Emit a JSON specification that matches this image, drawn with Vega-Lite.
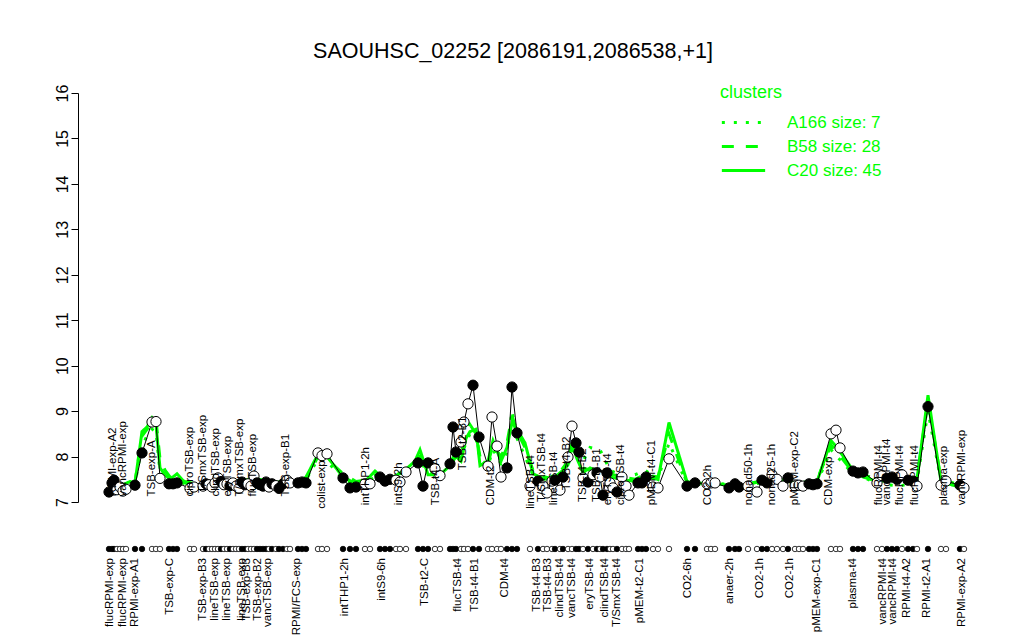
{
  "$schema": "https://vega.github.io/schema/vega-lite/v6.json",
  "width": 900,
  "height": 409,
  "autosize": {"type": "none"},
  "padding": {"left": 78, "top": 93, "right": 46, "bottom": 138},
  "background": "white",
  "title": {"text": "SAOUHSC_02252 [2086191,2086538,+1]", "fontSize": 21.5, "font": "Liberation Sans", "fontWeight": "normal", "anchor": "middle", "frame": "group", "offset": 22, "dx": -15, "color": "black"},
  "config": {"view": {"stroke": null}, "font": "Liberation Sans"},
  "datasets": {
    "pts": [
      {"pos": 6.2, "v": 7.22, "f": "F"}, {"pos": 6.8, "v": 7.42, "f": "F"}, {"pos": 7.2, "v": 7.48, "f": "F"}, {"pos": 7.8, "v": 7.27, "f": "O"},
      {"pos": 8.4, "v": 7.33, "f": "O"}, {"pos": 9.0, "v": 7.24, "f": "O"}, {"pos": 9.6, "v": 7.28, "f": "O"}, {"pos": 11.4, "v": 7.37, "f": "F"},
      {"pos": 12.8, "v": 8.08, "f": "F"}, {"pos": 14.8, "v": 8.76, "f": "O"}, {"pos": 15.6, "v": 8.77, "f": "O"}, {"pos": 16.4, "v": 7.52, "f": "O"},
      {"pos": 18.2, "v": 7.40, "f": "F"}, {"pos": 19.0, "v": 7.40, "f": "F"}, {"pos": 19.8, "v": 7.42, "f": "F"}, {"pos": 22.4, "v": 7.30, "f": "O"},
      {"pos": 23.2, "v": 7.33, "f": "O"}, {"pos": 25.0, "v": 7.35, "f": "O"}, {"pos": 25.6, "v": 7.40, "f": "F"}, {"pos": 26.2, "v": 7.38, "f": "O"},
      {"pos": 26.8, "v": 7.33, "f": "O"}, {"pos": 27.4, "v": 7.42, "f": "O"}, {"pos": 28.0, "v": 7.53, "f": "O"}, {"pos": 28.6, "v": 7.45, "f": "F"},
      {"pos": 29.2, "v": 7.38, "f": "O"}, {"pos": 29.8, "v": 7.40, "f": "O"}, {"pos": 30.4, "v": 7.36, "f": "F"}, {"pos": 31.0, "v": 7.42, "f": "O"},
      {"pos": 31.6, "v": 7.35, "f": "O"}, {"pos": 32.2, "v": 7.30, "f": "O"}, {"pos": 32.8, "v": 7.44, "f": "F"}, {"pos": 33.4, "v": 7.38, "f": "F"},
      {"pos": 34.0, "v": 7.40, "f": "O"}, {"pos": 34.6, "v": 7.35, "f": "O"}, {"pos": 35.2, "v": 7.57, "f": "O"}, {"pos": 35.8, "v": 7.42, "f": "F"},
      {"pos": 36.4, "v": 7.38, "f": "F"}, {"pos": 37.0, "v": 7.35, "f": "F"}, {"pos": 37.6, "v": 7.44, "f": "F"}, {"pos": 38.2, "v": 7.33, "f": "O"},
      {"pos": 38.8, "v": 7.40, "f": "F"}, {"pos": 39.6, "v": 7.36, "f": "O"}, {"pos": 40.2, "v": 7.30, "f": "F"}, {"pos": 41.0, "v": 7.40, "f": "F"},
      {"pos": 41.8, "v": 7.48, "f": "O"}, {"pos": 42.4, "v": 7.42, "f": "O"}, {"pos": 44.0, "v": 7.42, "f": "F"}, {"pos": 44.8, "v": 7.44, "f": "F"},
      {"pos": 45.6, "v": 7.42, "f": "F"}, {"pos": 48.0, "v": 8.08, "f": "O"}, {"pos": 48.8, "v": 8.02, "f": "O"}, {"pos": 49.8, "v": 8.06, "f": "O"},
      {"pos": 53.0, "v": 7.53, "f": "F"}, {"pos": 54.4, "v": 7.31, "f": "F"}, {"pos": 55.6, "v": 7.33, "f": "F"}, {"pos": 57.4, "v": 7.40, "f": "O"},
      {"pos": 58.4, "v": 7.40, "f": "O"}, {"pos": 60.4, "v": 7.55, "f": "F"}, {"pos": 61.4, "v": 7.46, "f": "F"}, {"pos": 62.4, "v": 7.50, "f": "F"},
      {"pos": 63.6, "v": 7.48, "f": "O"}, {"pos": 64.4, "v": 7.44, "f": "O"}, {"pos": 65.6, "v": 7.66, "f": "O"}, {"pos": 68.0, "v": 7.86, "f": "F"},
      {"pos": 69.0, "v": 7.35, "f": "F"}, {"pos": 70.0, "v": 7.86, "f": "F"}, {"pos": 71.4, "v": 7.73, "f": "O"}, {"pos": 72.4, "v": 7.58, "f": "O"},
      {"pos": 74.4, "v": 7.84, "f": "F"}, {"pos": 75.0, "v": 8.65, "f": "F"}, {"pos": 75.6, "v": 8.10, "f": "F"}, {"pos": 76.6, "v": 8.32, "f": "O"},
      {"pos": 77.2, "v": 8.76, "f": "O"}, {"pos": 78.0, "v": 9.16, "f": "O"}, {"pos": 79.0, "v": 9.57, "f": "F"}, {"pos": 80.2, "v": 8.43, "f": "F"},
      {"pos": 82.0, "v": 7.79, "f": "O"}, {"pos": 82.8, "v": 8.87, "f": "O"}, {"pos": 83.8, "v": 8.23, "f": "O"}, {"pos": 84.6, "v": 7.55, "f": "O"},
      {"pos": 85.8, "v": 7.75, "f": "F"}, {"pos": 86.8, "v": 9.53, "f": "F"}, {"pos": 87.8, "v": 8.52, "f": "F"}, {"pos": 90.4, "v": 7.35, "f": "O"},
      {"pos": 92.0, "v": 7.46, "f": "F"}, {"pos": 93.0, "v": 7.35, "f": "O"}, {"pos": 93.8, "v": 7.20, "f": "O"}, {"pos": 94.8, "v": 7.46, "f": "O"},
      {"pos": 95.4, "v": 7.48, "f": "F"}, {"pos": 96.4, "v": 7.26, "f": "O"}, {"pos": 97.0, "v": 7.55, "f": "F"}, {"pos": 98.0, "v": 7.99, "f": "O"},
      {"pos": 98.8, "v": 8.67, "f": "O"}, {"pos": 99.6, "v": 8.30, "f": "F"}, {"pos": 100.2, "v": 8.10, "f": "F"}, {"pos": 101.0, "v": 7.53, "f": "O"},
      {"pos": 102.0, "v": 7.44, "f": "F"}, {"pos": 103.0, "v": 7.60, "f": "O"}, {"pos": 103.8, "v": 7.64, "f": "F"}, {"pos": 104.4, "v": 7.55, "f": "O"},
      {"pos": 105.0, "v": 7.15, "f": "F"}, {"pos": 105.8, "v": 7.64, "f": "F"}, {"pos": 106.4, "v": 7.42, "f": "O"}, {"pos": 107.0, "v": 7.31, "f": "O"},
      {"pos": 107.8, "v": 7.22, "f": "F"}, {"pos": 108.8, "v": 7.55, "f": "O"}, {"pos": 109.6, "v": 7.35, "f": "O"}, {"pos": 110.2, "v": 7.15, "f": "O"},
      {"pos": 112.0, "v": 7.42, "f": "F"}, {"pos": 112.8, "v": 7.42, "f": "F"}, {"pos": 113.6, "v": 7.55, "f": "F"}, {"pos": 115.0, "v": 7.33, "f": "O"},
      {"pos": 116.0, "v": 7.31, "f": "O"}, {"pos": 118.2, "v": 7.95, "f": "O"}, {"pos": 121.8, "v": 7.35, "f": "F"}, {"pos": 123.4, "v": 7.42, "f": "F"},
      {"pos": 125.8, "v": 7.40, "f": "O"}, {"pos": 126.6, "v": 7.42, "f": "O"}, {"pos": 127.4, "v": 7.42, "f": "O"}, {"pos": 130.2, "v": 7.31, "f": "F"},
      {"pos": 131.4, "v": 7.40, "f": "F"}, {"pos": 132.2, "v": 7.33, "f": "F"}, {"pos": 134.0, "v": 7.35, "f": "O"}, {"pos": 135.8, "v": 7.22, "f": "O"},
      {"pos": 136.8, "v": 7.48, "f": "F"}, {"pos": 137.8, "v": 7.42, "f": "F"}, {"pos": 138.8, "v": 7.60, "f": "O"}, {"pos": 139.8, "v": 7.50, "f": "O"},
      {"pos": 141.0, "v": 7.35, "f": "O"}, {"pos": 142.0, "v": 7.53, "f": "F"}, {"pos": 143.4, "v": 7.35, "f": "O"}, {"pos": 144.2, "v": 7.37, "f": "O"},
      {"pos": 145.0, "v": 7.35, "f": "O"}, {"pos": 146.2, "v": 7.40, "f": "F"}, {"pos": 147.0, "v": 7.38, "f": "F"}, {"pos": 147.8, "v": 7.40, "f": "F"},
      {"pos": 150.6, "v": 8.50, "f": "O"}, {"pos": 151.6, "v": 8.58, "f": "O"}, {"pos": 152.4, "v": 8.19, "f": "O"}, {"pos": 155.0, "v": 7.68, "f": "F"},
      {"pos": 156.0, "v": 7.64, "f": "F"}, {"pos": 157.0, "v": 7.66, "f": "F"}, {"pos": 159.8, "v": 7.42, "f": "O"}, {"pos": 160.8, "v": 7.58, "f": "O"},
      {"pos": 161.8, "v": 7.52, "f": "F"}, {"pos": 162.8, "v": 7.55, "f": "F"}, {"pos": 163.8, "v": 7.50, "f": "F"}, {"pos": 164.8, "v": 7.60, "f": "O"},
      {"pos": 166.0, "v": 7.48, "f": "F"}, {"pos": 167.0, "v": 7.46, "f": "F"}, {"pos": 167.8, "v": 7.35, "f": "O"}, {"pos": 170.0, "v": 9.10, "f": "F"},
      {"pos": 172.6, "v": 7.37, "f": "O"}, {"pos": 173.6, "v": 7.46, "f": "O"}, {"pos": 176.4, "v": 7.37, "f": "F"}, {"pos": 177.2, "v": 7.31, "f": "O"}
    ],
    "clus": [
      {"pos": 6.2, "A166": 7.30, "B58": 7.35, "C20": 7.40}, {"pos": 8.4, "A166": 7.28, "B58": 7.32, "C20": 7.35},
      {"pos": 10.4, "A166": 7.35, "B58": 7.40, "C20": 7.45}, {"pos": 11.4, "A166": 7.40, "B58": 7.45, "C20": 7.42},
      {"pos": 12.8, "A166": 8.25, "B58": 8.45, "C20": 8.55}, {"pos": 13.8, "A166": 8.45, "B58": 8.60, "C20": 8.65},
      {"pos": 14.8, "A166": 8.60, "B58": 8.75, "C20": 8.85}, {"pos": 15.6, "A166": 8.55, "B58": 8.80, "C20": 8.70},
      {"pos": 16.4, "A166": 7.65, "B58": 7.95, "C20": 7.75}, {"pos": 17.4, "A166": 7.55, "B58": 7.70, "C20": 7.60},
      {"pos": 18.4, "A166": 7.45, "B58": 7.55, "C20": 7.50}, {"pos": 19.8, "A166": 7.45, "B58": 7.50, "C20": 7.62},
      {"pos": 21.4, "A166": 7.40, "B58": 7.45, "C20": 7.42}, {"pos": 23.4, "A166": 7.35, "B58": 7.40, "C20": 7.35},
      {"pos": 26.4, "A166": 7.40, "B58": 7.42, "C20": 7.45}, {"pos": 29.4, "A166": 7.45, "B58": 7.48, "C20": 7.42},
      {"pos": 32.4, "A166": 7.42, "B58": 7.45, "C20": 7.48}, {"pos": 35.4, "A166": 7.55, "B58": 7.52, "C20": 7.50},
      {"pos": 38.4, "A166": 7.40, "B58": 7.45, "C20": 7.42}, {"pos": 41.4, "A166": 7.45, "B58": 7.42, "C20": 7.45},
      {"pos": 44.4, "A166": 7.42, "B58": 7.48, "C20": 7.45}, {"pos": 45.6, "A166": 7.48, "B58": 7.50, "C20": 7.55},
      {"pos": 48.0, "A166": 7.95, "B58": 8.00, "C20": 8.05}, {"pos": 49.8, "A166": 7.90, "B58": 7.95, "C20": 8.00},
      {"pos": 53.0, "A166": 7.50, "B58": 7.62, "C20": 7.55}, {"pos": 55.6, "A166": 7.40, "B58": 7.45, "C20": 7.40},
      {"pos": 57.4, "A166": 7.42, "B58": 7.48, "C20": 7.45}, {"pos": 59.4, "A166": 7.55, "B58": 7.60, "C20": 7.68},
      {"pos": 61.4, "A166": 7.50, "B58": 7.55, "C20": 7.50}, {"pos": 63.6, "A166": 7.55, "B58": 7.60, "C20": 7.58},
      {"pos": 65.6, "A166": 7.65, "B58": 7.68, "C20": 7.72}, {"pos": 67.4, "A166": 7.80, "B58": 7.85, "C20": 7.90},
      {"pos": 68.4, "A166": 7.90, "B58": 8.00, "C20": 8.15}, {"pos": 70.0, "A166": 7.65, "B58": 7.70, "C20": 7.60},
      {"pos": 72.4, "A166": 7.58, "B58": 7.62, "C20": 7.60}, {"pos": 74.4, "A166": 7.75, "B58": 7.85, "C20": 7.80},
      {"pos": 75.6, "A166": 7.95, "B58": 8.10, "C20": 8.00}, {"pos": 76.6, "A166": 8.00, "B58": 8.05, "C20": 7.90},
      {"pos": 77.6, "A166": 8.30, "B58": 8.50, "C20": 8.40}, {"pos": 78.4, "A166": 8.50, "B58": 8.70, "C20": 8.55},
      {"pos": 79.6, "A166": 8.40, "B58": 8.50, "C20": 8.60}, {"pos": 80.4, "A166": 7.95, "B58": 8.00, "C20": 7.80},
      {"pos": 82.0, "A166": 7.80, "B58": 7.85, "C20": 7.90}, {"pos": 83.0, "A166": 8.15, "B58": 8.25, "C20": 8.35},
      {"pos": 84.6, "A166": 7.85, "B58": 8.00, "C20": 7.90}, {"pos": 85.8, "A166": 8.10, "B58": 8.30, "C20": 8.20},
      {"pos": 86.8, "A166": 9.00, "B58": 8.90, "C20": 8.75}, {"pos": 87.8, "A166": 8.40, "B58": 8.55, "C20": 8.60},
      {"pos": 89.4, "A166": 8.00, "B58": 8.20, "C20": 8.30}, {"pos": 91.0, "A166": 7.60, "B58": 7.70, "C20": 7.62},
      {"pos": 93.4, "A166": 7.48, "B58": 7.55, "C20": 7.50}, {"pos": 95.4, "A166": 7.60, "B58": 7.50, "C20": 7.55},
      {"pos": 97.0, "A166": 7.65, "B58": 7.75, "C20": 7.70}, {"pos": 98.0, "A166": 7.80, "B58": 7.90, "C20": 7.82},
      {"pos": 98.8, "A166": 8.10, "B58": 8.20, "C20": 8.30}, {"pos": 99.8, "A166": 8.20, "B58": 8.05, "C20": 7.95},
      {"pos": 101.0, "A166": 7.90, "B58": 7.75, "C20": 7.65}, {"pos": 102.4, "A166": 8.20, "B58": 7.70, "C20": 7.75},
      {"pos": 104.4, "A166": 8.15, "B58": 7.70, "C20": 7.65}, {"pos": 106.4, "A166": 7.70, "B58": 7.62, "C20": 7.55},
      {"pos": 108.8, "A166": 7.58, "B58": 7.55, "C20": 7.50}, {"pos": 111.4, "A166": 7.60, "B58": 7.50, "C20": 7.45},
      {"pos": 113.4, "A166": 7.70, "B58": 7.60, "C20": 7.55}, {"pos": 116.0, "A166": 7.50, "B58": 7.55, "C20": 7.50},
      {"pos": 118.2, "A166": 8.30, "B58": 8.50, "C20": 8.75}, {"pos": 121.8, "A166": 7.40, "B58": 7.42, "C20": 7.45},
      {"pos": 123.4, "A166": 7.38, "B58": 7.40, "C20": 7.42}, {"pos": 127.4, "A166": 7.42, "B58": 7.40, "C20": 7.40},
      {"pos": 132.4, "A166": 7.35, "B58": 7.38, "C20": 7.35}, {"pos": 136.4, "A166": 7.42, "B58": 7.45, "C20": 7.45},
      {"pos": 140.4, "A166": 7.45, "B58": 7.48, "C20": 7.50}, {"pos": 143.4, "A166": 7.38, "B58": 7.40, "C20": 7.42},
      {"pos": 147.8, "A166": 7.42, "B58": 7.48, "C20": 7.45}, {"pos": 150.6, "A166": 8.15, "B58": 8.25, "C20": 8.35},
      {"pos": 151.8, "A166": 8.00, "B58": 8.10, "C20": 8.20}, {"pos": 155.0, "A166": 7.62, "B58": 7.65, "C20": 7.70},
      {"pos": 157.0, "A166": 7.55, "B58": 7.60, "C20": 7.55}, {"pos": 160.0, "A166": 7.40, "B58": 7.50, "C20": 7.45},
      {"pos": 164.4, "A166": 7.35, "B58": 7.45, "C20": 7.50}, {"pos": 167.8, "A166": 7.45, "B58": 7.55, "C20": 7.50},
      {"pos": 170.0, "A166": 9.00, "B58": 9.20, "C20": 9.35}, {"pos": 172.6, "A166": 7.45, "B58": 7.50, "C20": 7.45},
      {"pos": 177.2, "A166": 7.30, "B58": 7.35, "C20": 7.30}
    ],
    "top": [
      {"pos": 7.0, "ly": 7.12, "t": "RPMI-exp-A2"}, {"pos": 9.0, "ly": 7.12, "t": "vancRPMI-exp"}, {"pos": 14.8, "ly": 7.12, "t": "TSB-exp-A"},
      {"pos": 22.4, "ly": 7.12, "t": "ciproTSB-exp"}, {"pos": 25.0, "ly": 7.2, "t": "T/SmxTSB-exp"}, {"pos": 27.6, "ly": 7.12, "t": "clindTSB-exp"},
      {"pos": 30.0, "ly": 7.12, "t": "eryTSB-exp"}, {"pos": 32.4, "ly": 7.12, "t": "T/SmxTSB-exp"}, {"pos": 35.0, "ly": 7.12, "t": "flucTSB-exp"},
      {"pos": 41.6, "ly": 7.12, "t": "TSB-exp-B1"}, {"pos": 48.8, "ly": 6.85, "t": "colist-exp"}, {"pos": 57.6, "ly": 6.93, "t": "intTHP1-2h"},
      {"pos": 64.2, "ly": 6.93, "t": "intS9-2h"}, {"pos": 71.6, "ly": 6.93, "t": "TSB-t4-A"}, {"pos": 77.0, "ly": 7.70, "t": "TSB-t2-B1"},
      {"pos": 82.6, "ly": 6.93, "t": "CDM-t2"}, {"pos": 90.6, "ly": 6.85, "t": "lineTSB-t4"}, {"pos": 92.8, "ly": 7.0, "t": "T/SmxTSB-t4"},
      {"pos": 95.2, "ly": 6.93, "t": "lineTSB-t4"}, {"pos": 97.8, "ly": 7.26, "t": "TSB-t4-B2"}, {"pos": 101.0, "ly": 7.0, "t": "TSB-t4-B2"},
      {"pos": 103.8, "ly": 7.0, "t": "TSB-t4-B1"}, {"pos": 106.0, "ly": 6.93, "t": "eryTSB-t4"}, {"pos": 108.6, "ly": 6.93, "t": "ciproTSB-t4"},
      {"pos": 114.8, "ly": 6.93, "t": "pMEM-t4-C1"}, {"pos": 126.0, "ly": 6.93, "t": "CO2-2h"}, {"pos": 134.2, "ly": 6.93, "t": "nonad50-1h"},
      {"pos": 138.8, "ly": 6.93, "t": "nonad25-1h"}, {"pos": 143.4, "ly": 6.93, "t": "pMEM-exp-C2"}, {"pos": 150.2, "ly": 6.93, "t": "CDM-exp"},
      {"pos": 160.2, "ly": 6.93, "t": "flucRPMI-t4"}, {"pos": 161.8, "ly": 6.93, "t": "vancRPMI-t4"}, {"pos": 164.4, "ly": 6.93, "t": "flucRPMI-t4"},
      {"pos": 167.4, "ly": 6.93, "t": "flucRPMI-t4"}, {"pos": 173.2, "ly": 6.93, "t": "plasma-exp"}, {"pos": 176.8, "ly": 6.93, "t": "vancRPMI-exp"}
    ],
    "bot": [
      {"pos": 6.4, "t": "flucRPMI-exp"}, {"pos": 9.0, "t": "flucRPMI-exp"}, {"pos": 11.4, "t": "RPMI-exp-A1"}, {"pos": 18.4, "t": "TSB-exp-C"},
      {"pos": 25.0, "t": "TSB-exp-B3"}, {"pos": 27.4, "t": "lineTSB-exp"}, {"pos": 29.8, "t": "lineTSB-exp"}, {"pos": 32.8, "t": "lineTSB-exp"},
      {"pos": 33.8, "t": "TSB-exp-B3"}, {"pos": 36.0, "t": "TSB-exp-B2"}, {"pos": 38.0, "t": "vancTSB-exp"}, {"pos": 43.8, "t": "RPMI/FCS-exp"},
      {"pos": 53.4, "t": "intTHP1-2h"}, {"pos": 60.8, "t": "intS9-6h"}, {"pos": 69.4, "t": "TSB-t2-C"}, {"pos": 76.0, "t": "flucTSB-t4"},
      {"pos": 79.4, "t": "TSB-t4-B1"}, {"pos": 85.4, "t": "CDM-t4"}, {"pos": 91.8, "t": "TSB-t4-B3"}, {"pos": 94.0, "t": "TSB-t4-B3"},
      {"pos": 96.4, "t": "clindTSB-t4"}, {"pos": 98.8, "t": "vancTSB-t4"}, {"pos": 102.4, "t": "eryTSB-t4"}, {"pos": 105.4, "t": "clindTSB-t4"},
      {"pos": 107.8, "t": "T/SmxTSB-t4"}, {"pos": 112.4, "t": "pMEM-t2-C1"}, {"pos": 122.0, "t": "CO2-6h"}, {"pos": 130.4, "t": "anaer-2h"},
      {"pos": 136.4, "t": "CO2-1h"}, {"pos": 142.4, "t": "CO2-1h"}, {"pos": 147.8, "t": "pMEM-exp-C1"}, {"pos": 155.0, "t": "plasma-t4"},
      {"pos": 161.0, "t": "vancRPMI-t4"}, {"pos": 163.0, "t": "vancRPMI-t4"}, {"pos": 165.8, "t": "RPMI-t4-A2"}, {"pos": 169.8, "t": "RPMI-t2-A1"},
      {"pos": 176.8, "t": "RPMI-exp-A2"}
    ]
  },
  "layer": [
    {
      "data": {"name": "clus"},
      "transform": [{"fold": ["A166", "B58", "C20"], "as": ["cluster", "val"]}],
      "mark": {"type": "line", "strokeWidth": 3, "color": "#00ff00"},
      "encoding": {
        "x": {"field": "pos", "type": "quantitative", "scale": {"domain": [0, 180], "nice": false, "zero": false}, "axis": null},
        "y": {"field": "val", "type": "quantitative", "scale": {"domain": [7, 16], "nice": false, "zero": false},
              "axis": {"values": [7, 8, 9, 10, 11, 12, 13, 14, 15, 16], "grid": false, "title": null, "domainColor": "black", "tickColor": "black", "labelColor": "black",
                       "labelFontSize": 16, "labelFont": "Liberation Sans", "labelAngle": 270, "labelAlign": "center", "labelBaseline": "bottom",
                       "tickSize": 7, "labelPadding": 1, "domainWidth": 1, "tickWidth": 1}},
        "strokeDash": {"field": "cluster", "type": "nominal", "scale": {"domain": ["A166", "B58", "C20"], "range": [[3, 9], [12, 12], [1, 0]]},
          "legend": {"orient": "none", "legendX": 642, "legendY": -9, "title": "clusters", "titleColor": "#00ff00", "titleFontSize": 18,
                     "titleFont": "Liberation Sans", "titleFontWeight": "normal", "labelColor": "#00ff00", "labelFontSize": 17, "labelFont": "Liberation Sans",
                     "symbolType": "M-1,0H4", "symbolStrokeColor": "#00ff00", "symbolFillColor": "transparent", "symbolStrokeWidth": 3, "symbolSize": 300, "labelOffset": 46,
                     "rowPadding": 5, "titlePadding": 10, "padding": 0,
                     "labelExpr": "datum.label == 'A166' ? 'A166 size: 7' : datum.label == 'B58' ? 'B58 size: 28' : 'C20 size: 45'"}}
      }
    },
    {
      "data": {"name": "pts"},
      "mark": {"type": "line", "color": "black", "strokeWidth": 1},
      "encoding": {
        "x": {"field": "pos", "type": "quantitative"},
        "y": {"field": "v", "type": "quantitative"}
      }
    },
    {
      "data": {"name": "pts"},
      "mark": {"type": "point", "shape": "circle", "filled": true, "size": 105, "stroke": "black", "strokeWidth": 1, "opacity": 1},
      "encoding": {
        "x": {"field": "pos", "type": "quantitative"},
        "y": {"field": "v", "type": "quantitative"},
        "fill": {"field": "f", "type": "nominal", "scale": {"domain": ["F", "O"], "range": ["black", "white"]}, "legend": null}
      }
    },
    {
      "data": {"name": "pts"},
      "mark": {"type": "point", "shape": "circle", "filled": true, "size": 30, "stroke": "black", "strokeWidth": 0.8, "opacity": 1},
      "encoding": {
        "x": {"field": "pos", "type": "quantitative"},
        "y": {"datum": 5.966},
        "fill": {"field": "f", "type": "nominal", "scale": {"domain": ["F", "O"], "range": ["black", "white"]}, "legend": null}
      }
    },
    {
      "data": {"name": "top"},
      "mark": {"type": "text", "angle": 270, "align": "left", "baseline": "middle", "fontSize": 11.5, "font": "Liberation Sans", "color": "black"},
      "encoding": {
        "x": {"field": "pos", "type": "quantitative"},
        "y": {"field": "ly", "type": "quantitative"},
        "text": {"field": "t"}
      }
    },
    {
      "data": {"name": "bot"},
      "mark": {"type": "text", "angle": 270, "align": "right", "baseline": "middle", "fontSize": 11.5, "font": "Liberation Sans", "color": "black"},
      "encoding": {
        "x": {"field": "pos", "type": "quantitative"},
        "y": {"datum": 5.768},
        "text": {"field": "t"}
      }
    }
  ]
}
